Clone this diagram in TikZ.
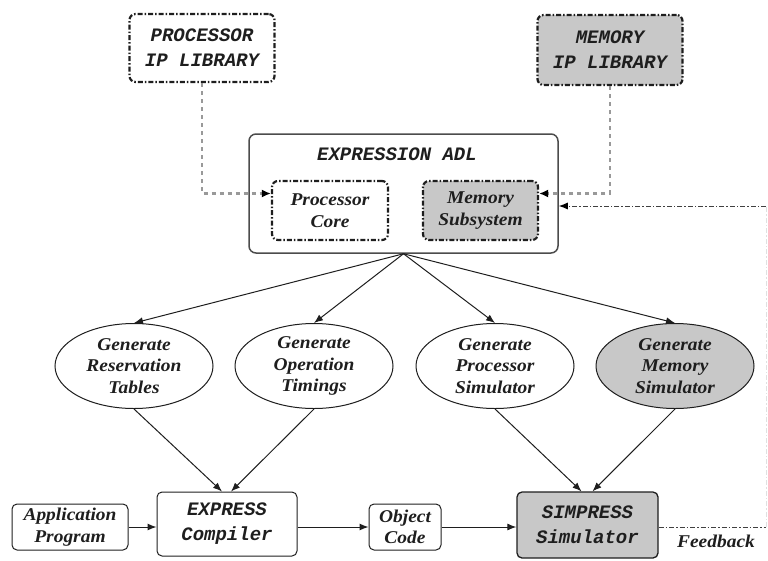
\documentclass[tikz,border=0pt]{standalone}
\usepackage{fontspec}
\setmainfont{Liberation Serif}
\newfontfamily\lblfont[FakeStretch=1.08]{Liberation Serif}
\newfontfamily\ttlbl{Liberation Mono}
\usetikzlibrary{shapes.geometric,arrows.meta}
\definecolor{boxgray}{RGB}{200,200,200}
\definecolor{ink}{RGB}{30,30,30}
\tikzset{
  lbl/.style={font=\lblfont\bfseries\itshape\fontsize{18}{21.5}\selectfont, align=center, text=ink},
  ttl/.style={font=\ttlbl\bfseries\itshape\fontsize{19}{25}\selectfont, align=center, text=ink},
  dashdotline/.style={dash pattern=on 5pt off 2pt on 1.5pt off 2pt},
  libbox/.style={draw=ink, line width=2.2pt, dashdotline, rounded corners=6pt, inner sep=0pt},
  ell/.style={ellipse, draw=ink, line width=1pt, minimum width=158pt, minimum height=85pt, inner sep=0pt},
  plainbox/.style={draw=ink, line width=1pt, rounded corners=5pt, inner sep=0pt},
  arr/.style={-{Latex[length=9pt,width=7pt]}, line width=1pt, draw=ink},
  libconn/.style={-{Latex[length=9pt,width=8pt,color=black]}, line width=2.2pt, draw=black!40, dash pattern=on 4pt off 4pt},
  fb/.style={line width=1pt, draw=black!75, dashdotline},
}
\begin{document}
\begin{tikzpicture}[x=1pt,y=-1pt]
\useasboundingbox (0,0) rectangle (768,560);
% libraries
\node[libbox, ttl, minimum width=145pt, minimum height=68pt] (plib) at (202,48) {PROCESSOR\\IP LIBRARY};
\node[libbox, ttl, fill=boxgray, minimum width=145pt, minimum height=70pt] (mlib) at (610,50) {MEMORY\\IP LIBRARY};
% ADL
\node[draw=black!70, line width=1.5pt, rounded corners=7pt, minimum width=309pt, minimum height=119pt] (adl) at (403.5,193.5) {};
\node[ttl] (adlt) at (397,154) {EXPRESSION ADL};
\node[libbox, lbl, minimum width=116pt, minimum height=59pt] (pcore) at (330,210.5) {Processor\\Core};
\node[libbox, lbl, fill=boxgray, minimum width=115pt, minimum height=59pt] (msub) at (480.5,210.5) {Memory\\Subsystem};
\draw[libconn] (plib.south) |- ([yshift=17pt]pcore.west);
\draw[libconn] (mlib.south) |- ([yshift=17pt]msub.east);
% ellipses
\node[ell, lbl] (rt) at (134,366) {Generate\\Reservation\\Tables};
\node[ell, lbl] (ot) at (314,366) {Generate\\Operation\\Timings};
\node[ell, lbl] (ps) at (495,366) {Generate\\Processor\\Simulator};
\node[ell, lbl, fill=boxgray] (ms) at (675,366) {Generate\\Memory\\Simulator};
\foreach \e in {rt,ot,ps,ms} \draw[arr] (adl.south) -- (\e.north);
% bottom row
\node[plainbox, lbl, minimum width=116pt, minimum height=46pt] (app) at (70,527) {Application\\Program};
\node[plainbox, ttl, minimum width=140pt, minimum height=64pt] (comp) at (227,524) {EXPRESS\\Compiler};
\node[plainbox, lbl, minimum width=72pt, minimum height=46pt] (obj) at (405,527) {Object\\Code};
\node[plainbox, ttl, fill=boxgray, line width=1.3pt, minimum width=141pt, minimum height=66pt] (sim) at (587.5,525) {SIMPRESS\\Simulator};
\draw[arr] (rt.south) -- ([xshift=-5pt]comp.north);
\draw[arr] (ot.south) -- ([xshift=4pt]comp.north);
\draw[arr] (ps.south) -- ([xshift=-6pt]sim.north);
\draw[arr] (ms.south) -- ([xshift=5pt]sim.north);
\draw[arr] (app.east) -- (comp.west |- app.east);
\draw[arr] (comp.east |- obj.west) -- (obj.west);
\draw[arr] (obj.east) -- (sim.west |- obj.east);
% feedback
\coordinate (fbR) at (766,527);
\coordinate (fbT) at (766,206);
\draw[fb] (sim.east |- fbR) -- (fbR);
\draw[line width=0.6pt, draw=black!12, dashdotline] (fbR) -- (fbT);
\draw[fb, -{Latex[length=9pt,width=7pt,color=black]}] (fbT) -- (adl.east |- fbT);
\node[lbl] (fbl) at (716,541) {Feedback};
\end{tikzpicture}
\end{document}
